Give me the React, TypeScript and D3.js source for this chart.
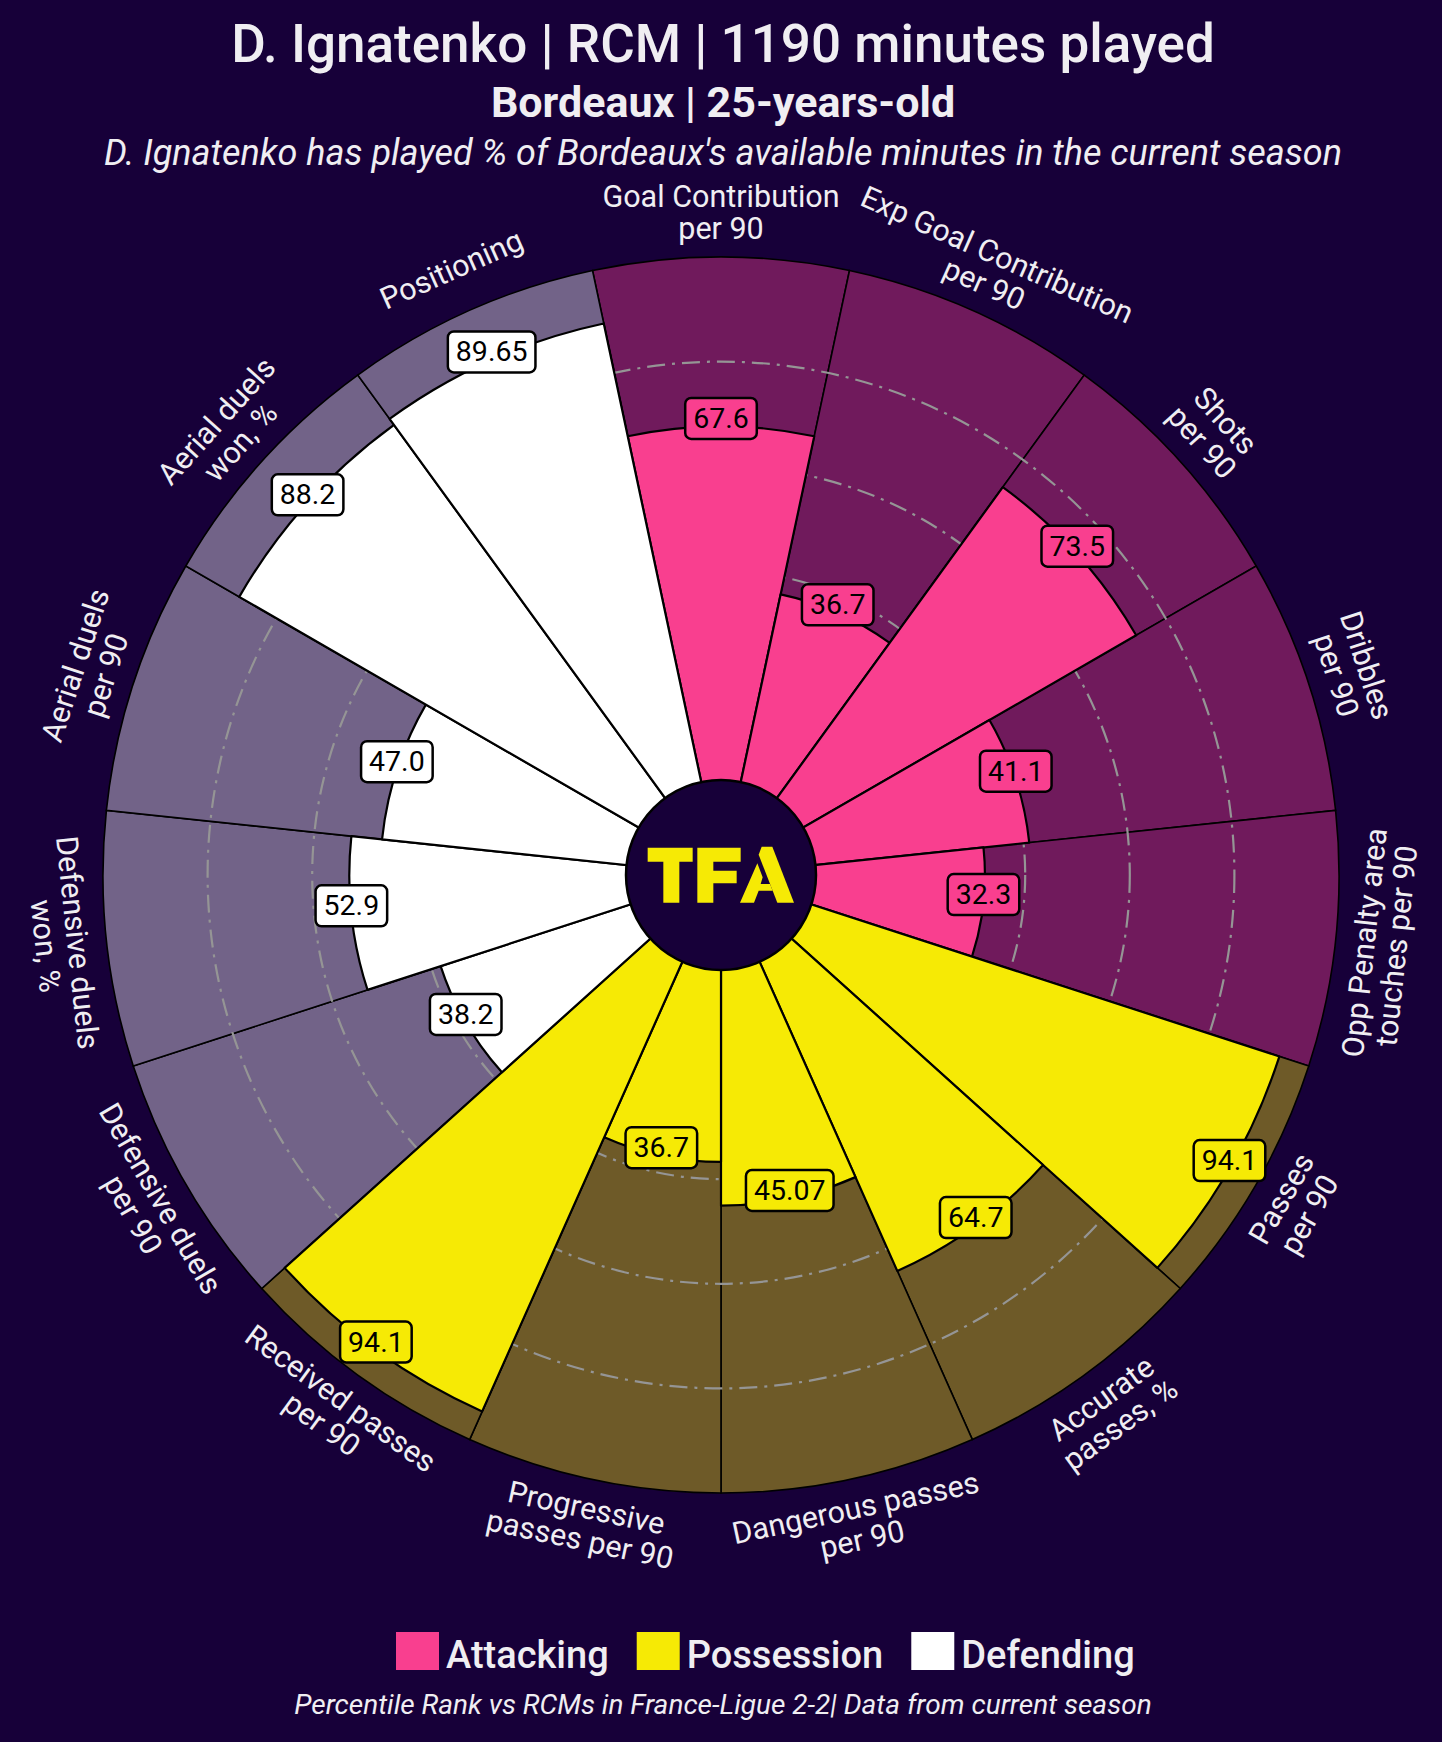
import React, { useEffect, useRef } from "react";
import * as d3 from "d3";

const params = [
  "Goal Contribution\nper 90",
  "Exp Goal Contribution\nper 90",
  "Shots\nper 90",
  "Dribbles\nper 90",
  "Opp Penalty area\ntouches per 90",
  "Passes\nper 90",
  "Accurate\npasses, %",
  "Dangerous passes\nper 90",
  "Progressive\npasses per 90",
  "Received passes\nper 90",
  "Defensive duels\nper 90",
  "Defensive duels\nwon, %",
  "Aerial duels\nper 90",
  "Aerial duels\nwon, %",
  "Positioning",
];
const values = [67.6, 36.7, 73.5, 41.1, 32.3, 94.1, 64.7, 45.07, 36.7, 94.1, 38.2, 52.9, 47.0, 88.2, 89.65];
const valueLabels = ["67.6", "36.7", "73.5", "41.1", "32.3", "94.1", "64.7", "45.07", "36.7", "94.1", "38.2", "52.9", "47.0", "88.2", "89.65"];
const groups = [
  "Attacking", "Attacking", "Attacking", "Attacking", "Attacking",
  "Possession", "Possession", "Possession", "Possession", "Possession",
  "Defending", "Defending", "Defending", "Defending", "Defending",
];
const groupNames = ["Attacking", "Possession", "Defending"];
const groupColors = ["#f93f8f", "#f6ea05", "#ffffff"];
const groupBg = ["#701a5c", "#6e5a28", "#726388"];
const gridValues = [20, 40, 60, 80];

const title = "D. Ignatenko | RCM | 1190 minutes played";
const subtitle = "Bordeaux | 25-years-old";
const subtitle2 = "D. Ignatenko has played % of Bordeaux's available minutes in the current season";
const footer = "Percentile Rank vs RCMs in France-Ligue 2-2| Data from current season";

const W = 1442;
const H = 1742;
const BG = "#170039";
const TXT = "#f0eef2";
const FONT = "Roboto, 'Noto Sans', sans-serif";

export default function App() {
  const ref = useRef<SVGSVGElement | null>(null);

  useEffect(() => {
    const svg = d3.select(ref.current);
    svg.selectAll("*").remove();
    svg.append("rect").attr("width", W).attr("height", H).attr("fill", BG);

    const cx = 721, cy = 875;
    const r = d3.scaleLinear().domain([0, 100]).range([95, 618]);
    const n = params.length;
    const step = (2 * Math.PI) / n;
    const ang = (i: number) => i * step;
    const colorOf = (i: number) => groupColors[groupNames.indexOf(groups[i])];
    const bgOf = (i: number) => groupBg[groupNames.indexOf(groups[i])];

    const g = svg.append("g").attr("transform", `translate(${cx},${cy})`);
    const arc = d3.arc<any>();

    // background slices
    g.selectAll("path.bg")
      .data(values)
      .enter()
      .append("path")
      .attr("d", (_d, i) =>
        arc({ innerRadius: 0, outerRadius: r(100), startAngle: ang(i) - step / 2, endAngle: ang(i) + step / 2 }) as string
      )
      .attr("fill", (_d, i) => bgOf(i))
      .attr("stroke", "#000")
      .attr("stroke-width", 1.6);

    // grid circles
    g.selectAll("circle.grid")
      .data(gridValues)
      .enter()
      .append("circle")
      .attr("r", (d) => r(d))
      .attr("fill", "none")
      .attr("stroke", "#959595")
      .attr("stroke-width", 2.2)
      .attr("stroke-dasharray", "18 7 3 7");

    // value bars
    g.selectAll("path.bar")
      .data(values)
      .enter()
      .append("path")
      .attr("d", (d, i) =>
        arc({ innerRadius: 0, outerRadius: r(d), startAngle: ang(i) - step / 2, endAngle: ang(i) + step / 2 }) as string
      )
      .attr("fill", (_d, i) => colorOf(i))
      .attr("stroke", "#000")
      .attr("stroke-width", 2.2)
      .attr("stroke-linejoin", "round");

    // center circle
    g.append("circle").attr("r", 95).attr("fill", BG).attr("stroke", "#000").attr("stroke-width", 2.5);

    // TFA logo (relative to crop origin 620,820 at 3x)
    const lp = (x: number, y: number) => `${620 + x / 3 - cx},${820 + y / 3 - cy}`;
    const logo = g.append("g");
    const poly = (pts: number[][], fill?: string) =>
      logo.append("polygon").attr("points", pts.map((p) => lp(p[0], p[1])).join(" ")).attr("fill", fill || "#f6ea05");
    poly([[83, 83], [218, 83], [218, 125], [178, 125], [178, 248], [130, 248], [130, 125], [83, 125]]);
    poly([[232, 83], [362, 83], [362, 125], [280, 125], [280, 152], [350, 152], [350, 190], [280, 190], [280, 248], [232, 248]]);
    // A: thick right leg
    poly([[425, 80], [457, 80], [522, 248], [472, 248], [416, 104]]);
    // A: left lower piece with crossbar
    poly([[412, 130], [428, 172], [422, 192], [450, 192], [458, 212], [416, 212], [402, 248], [360, 248]]);

    // value boxes
    const vg = g.append("g");
    values.forEach((v, i) => {
      const a = ang(i);
      const x = r(v) * Math.sin(a);
      const y = -r(v) * Math.cos(a) - 8;
      const item = vg.append("g").attr("transform", `translate(${x},${y})`);
      const rect = item.append("rect");
      const t = item
        .append("text")
        .attr("text-anchor", "middle")
        .attr("dominant-baseline", "central")
        .attr("font-family", FONT)
        .attr("font-size", 28.5)
        .attr("fill", "#000")
        .text(valueLabels[i]);
      const w = (t.node() as SVGTextElement).getComputedTextLength();
      rect
        .attr("x", -w / 2 - 8)
        .attr("y", -20.5)
        .attr("width", w + 16)
        .attr("height", 41)
        .attr("rx", 6)
        .attr("fill", colorOf(i))
        .attr("stroke", "#000")
        .attr("stroke-width", 2.5);
    });

    // param labels
    const pg = g.append("g");
    params.forEach((p, i) => {
      const aDeg = (i * 360) / n;
      const a = ang(i);
      const R = 663;
      const x = R * Math.sin(a);
      const y = -R * Math.cos(a);
      const rot = aDeg > 90 && aDeg < 270 ? aDeg - 180 : aDeg > 180 ? aDeg - 360 : aDeg;
      const lines = p.split("\n");
      const lh = 32;
      const t = pg
        .append("text")
        .attr("transform", `translate(${x},${y}) rotate(${rot})`)
        .attr("text-anchor", "middle")
        .attr("font-family", FONT)
        .attr("font-size", 30.5)
        .attr("fill", TXT);
      lines.forEach((l, k) => {
        t.append("tspan")
          .attr("x", 0)
          .attr("y", (k - (lines.length - 1) / 2) * lh)
          .attr("dominant-baseline", "central")
          .text(l);
      });
    });

    // titles
    svg.append("text").attr("x", W / 2 + 2).attr("y", 62).attr("text-anchor", "middle")
      .attr("font-family", FONT).attr("font-weight", 500).attr("font-size", 53).attr("fill", TXT).text(title);
    svg.append("text").attr("x", W / 2 + 2).attr("y", 117).attr("text-anchor", "middle")
      .attr("font-family", FONT).attr("font-weight", 700).attr("font-size", 43).attr("fill", TXT).text(subtitle);
    svg.append("text").attr("x", W / 2 + 2).attr("y", 165).attr("text-anchor", "middle")
      .attr("font-family", FONT).attr("font-style", "italic").attr("font-size", 36).attr("fill", TXT).text(subtitle2);

    // legend
    let lx = 396;
    groupNames.forEach((name, k) => {
      svg.append("rect").attr("x", lx).attr("y", 1632).attr("width", 43).attr("height", 38).attr("fill", groupColors[k]);
      const t = svg.append("text").attr("x", lx + 50).attr("y", 1668)
        .attr("font-family", FONT).attr("font-weight", 500).attr("font-size", 38).attr("fill", TXT).text(name);
      const w = (t.node() as SVGTextElement).getComputedTextLength();
      lx += 50 + w + 28;
    });

    svg.append("text").attr("x", W / 2 + 2).attr("y", 1714).attr("text-anchor", "middle")
      .attr("font-family", FONT).attr("font-style", "italic").attr("font-size", 28).attr("fill", TXT).text(footer);
  }, []);

  return (
    <svg
      ref={ref}
      width={W}
      height={H}
      style={{ position: "absolute", left: 0, top: 0, display: "block" }}
    />
  );
}
